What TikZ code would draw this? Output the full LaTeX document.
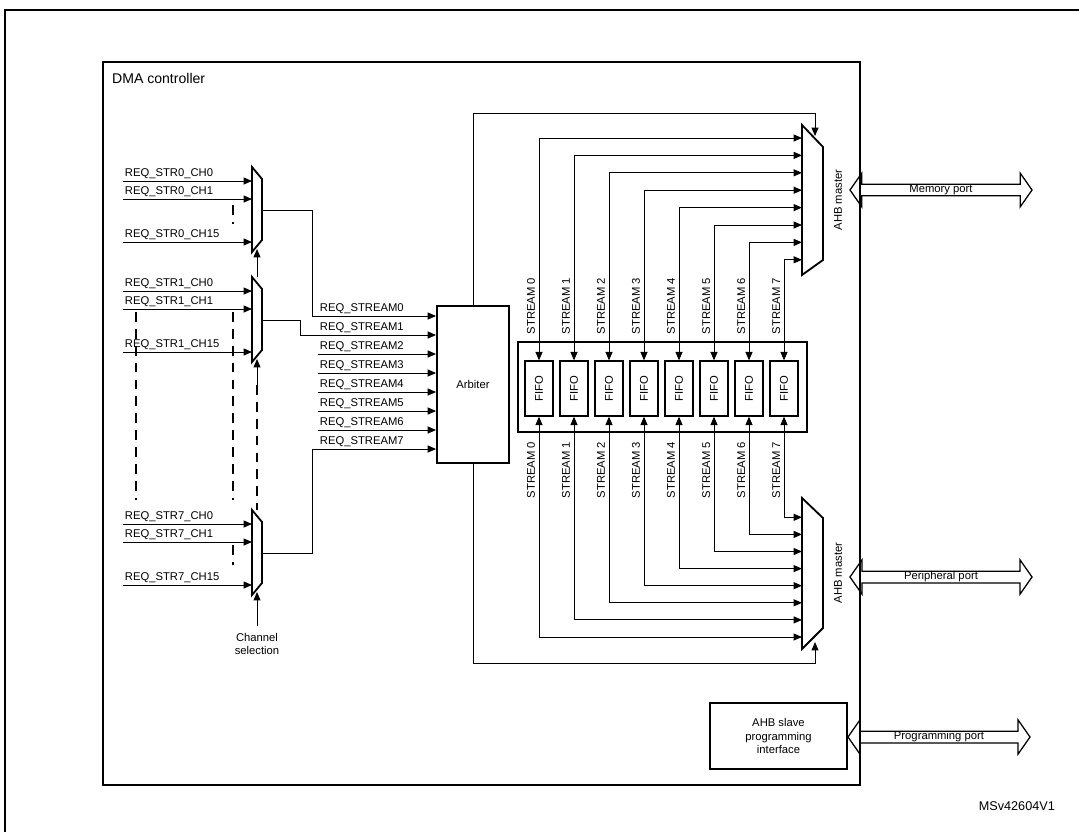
\documentclass[tikz,border=0pt]{standalone}
\usepackage{fontspec}
\setmainfont{Liberation Sans}
\usetikzlibrary{arrows.meta,shapes.arrows}

\begin{document}
\begin{tikzpicture}[x=0.025cm,y=-0.025cm,font=\fontsize{8}{9.5}\selectfont,
  >={Triangle[length=6pt,width=5pt]}, line width=0.7pt]

\tikzstyle box=[draw, line width=1.3pt, fill=white, inner sep=0pt]
\tikzstyle mux=[draw, line width=1.3pt, fill=white]
\tikzstyle lbl=[inner sep=1pt]
\tikzstyle port=[draw, line width=0.9pt, double arrow, double arrow tip angle=110,
  double arrow head extend=0.28cm, minimum height=4.55cm, minimum width=0.7cm, inner sep=0pt]
\tikzstyle chdash=[dash pattern=on 7pt off 5pt, line width=0.9pt]

\useasboundingbox (0,0) rectangle (1079,831);
\draw[line width=1.3pt] (5,10) rectangle (1090,845);

% DMA controller frame
\draw[line width=1.3pt] (103,62) rectangle (860,785);
\node (title) [anchor=north west, font=\fontsize{10}{12}\selectfont] at (107,68) {DMA controller};

% dashed continuation lines
\draw[chdash] (233,205) -- (233,224);
\draw[chdash] (233,312) -- (233,500);
\draw[chdash] (136,312) -- (136,500);
\draw[chdash] (233,545) -- (233,565);
\draw[chdash] (257,385) -- (257,510);

% channel multiplexers
\foreach \m/\t/\s in {m0/167/0, m1/277/1, m7/510/7} {
  \draw[mux] (252,\t) -- (262,\t+12) -- (262,\t+73) -- (252,\t+85) -- cycle;
  \coordinate (\m out) at (262,\t+43);
  \coordinate (\m sel) at (257,\t+82);
  \foreach \c/\d in {0/14,1/32,15/75} {
    \coordinate (\m src\c) at (123,\t+\d);
    \coordinate (\m in\c) at (252,\t+\d);
    \draw[->] (\m src\c) -- (\m in\c);
    \node[lbl, anchor=south west] at (\m src\c) {REQ\_STR\s\_CH\c};
  }
}
\coordinate (s0) at (257,277);
\coordinate (s1) at (257,395);
\coordinate (s7) at (257,626);
\draw[->] (s0) -- (m0sel);
\draw[->] (s1) -- (m1sel);
\draw[->] (s7) -- (m7sel);
\node (chsel) [align=center, anchor=north] at (257,628) {Channel\\selection};

% arbiter
\node (arb) [box, minimum width=1.8cm, minimum height=3.93cm] at (473,384.5) {Arbiter};
\foreach \i in {0,...,7} {
  \coordinate (rq\i) at (318,316+19*\i);
  \node[lbl, anchor=south west] at (rq\i) {REQ\_STREAM\i};
}
\foreach \i in {2,...,6} \draw[->] (rq\i) -- (rq\i -| arb.west);
\draw[->] (m0out) -| (312,316) -- (rq0 -| arb.west);
\draw[->] (m1out) -| (300,335) -- (rq1 -| arb.west);
\draw[->] (m7out) -| (312,449) -- (rq7 -| arb.west);

% FIFOs
\node (fifos) [box, minimum width=7.225cm, minimum height=2.25cm] at (662.5,387) {};
\foreach \i in {0,...,7} {
  \node (f\i) [draw, line width=0.9pt, minimum width=0.7cm, minimum height=1.375cm,
    inner sep=0pt] at (539+35*\i,388.5) {\rotatebox{90}{FIFO}};
}

% AHB masters
\draw[mux] (802,125) -- (823,147) -- (823,260) -- (802,275) -- cycle;
\draw[mux] (802,498) -- (823,518) -- (823,628) -- (802,649) -- cycle;
\node (memlbl) [rotate=90] at (838,200) {AHB master};
\node (perlbl) [rotate=90] at (838,573) {AHB master};
\foreach \i in {0,...,7} {
  \coordinate (mi\i) at (802,138+17.4*\i);
  \coordinate (pi\i) at (802,637-17.1*\i);
  \draw[<->] (f\i.north) |- (mi\i);
  \draw[<->] (f\i.south) |- (pi\i);
  \node[lbl, rotate=90, anchor=south west] at (537+35*\i,336) {STREAM \i};
  \node[lbl, rotate=90, anchor=south east] at (537+35*\i,440) {STREAM \i};
}
\coordinate (memsel) at (815,136);
\coordinate (persel) at (815,642);
\draw[->] (arb.north) |- (815,113) -- (memsel);
\draw[->] (arb.south) |- (815,663) -- (persel);

% ports
\node (memport) [port] at (941,190) {Memory port};
\node (perport) [port] at (941,577) {Peripheral port};
\node (slave) [box, line width=1pt, minimum width=3.43cm, minimum height=1.65cm,
  align=center] at (778.5,736) {AHB slave\\programming\\interface};
\node (progport) [port] at (939,737) {Programming port};

\node (ref) [anchor=east, font=\fontsize{9}{11}\selectfont] at (1060,806) {MSv42604V1};
\end{tikzpicture}
\end{document}
